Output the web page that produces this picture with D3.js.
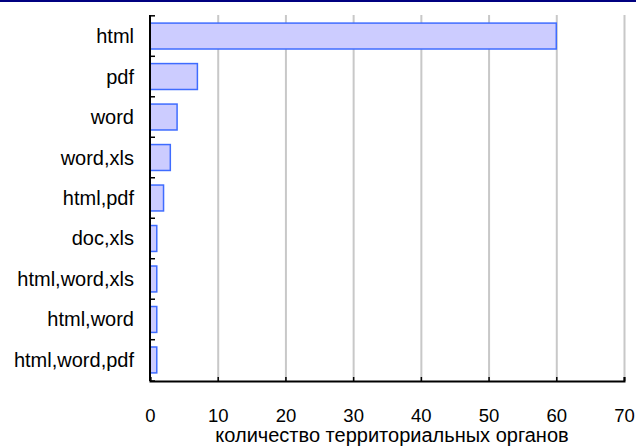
<!DOCTYPE html>
<html>
  <head>
    <meta charset="utf-8" />
    <style>
      body {
        margin: 0;
        background: #fff;
        font-family: "Liberation Sans", Arial, sans-serif;
      }
      svg {
        display: block;
      }
      .grid line {
        stroke: #c8c8c8;
        stroke-width: 2;
      }
      .grid .domain {
        display: none;
      }
      .x .tick text {
        font-size: 18.5px;
        fill: #000;
      }
      .axis-label {
        font-size: 20px;
      }
    </style>
  </head>
  <body>
    <svg width="636" height="446"></svg>
    <script src="https://d3js.org/d3.v7.min.js"></script>
    <script>
      let categories = [
        "html",
        "pdf",
        "word",
        "word,xls",
        "html,pdf",
        "doc,xls",
        "html,word,xls",
        "html,word",
        "html,word,pdf",
      ];
      let values = [60, 7, 4, 3, 2, 1, 1, 1, 1];
      let xTicks = [0, 10, 20, 30, 40, 50, 60, 70];
      let xTitle = "количество территориальных органов";

      let width = 636;
      let height = 446;
      let margin = { top: 15, right: 12, bottom: 65, left: 150 };

      let svg = d3.select("svg");

      // thin navy rule along the top
      svg
        .append("rect")
        .attr("x", 0)
        .attr("y", 0)
        .attr("width", width)
        .attr("height", 2)
        .attr("fill", "#000080");

      let x = d3
        .scaleLinear()
        .domain([0, 70])
        .range([margin.left, 624]);

      let y = d3
        .scaleBand()
        .domain(categories)
        .range([margin.top, 381])
        .paddingInner(0.36)
        .paddingOuter(0.2);

      // gridlines
      svg
        .append("g")
        .attr("class", "grid")
        .attr("transform", `translate(0, ${margin.top})`)
        .call(
          d3
            .axisBottom(x)
            .tickValues(xTicks.slice(1))
            .tickSize(381 - margin.top)
            .tickFormat("")
        );

      // bars
      svg
        .append("g")
        .selectAll("rect")
        .data(categories)
        .join("rect")
        .attr("x", x(0))
        .attr("y", (d) => y(d))
        .attr("width", (d, i) => x(values[i]) - x(0))
        .attr("height", y.bandwidth())
        .attr("fill", "#ccccff")
        .attr("stroke", "#3f6cff")
        .attr("stroke-width", 1.5);

      // x axis
      let xAxis = svg
        .append("g")
        .attr("class", "x axis")
        .attr("transform", `translate(0, 381)`)
        .call(d3.axisTop(x).tickValues(xTicks).tickSize(4).tickFormat(d3.format("d")));
      xAxis.select(".domain").attr("stroke", "#000").attr("stroke-width", 2);
      xAxis.selectAll(".tick line").attr("stroke", "#000").attr("stroke-width", 1.5);
      xAxis
        .selectAll(".tick text")
        .attr("y", 41)
        .attr("dy", 0);

      // y axis: ticks at category boundaries
      let step = y.step();
      let bounds = categories.map((c) => y(c) - (step - y.bandwidth()) / 2);
      bounds.push(381);
      let yAxis = svg.append("g").attr("class", "y axis");
      yAxis
        .append("line")
        .attr("x1", x(0))
        .attr("x2", x(0))
        .attr("y1", margin.top)
        .attr("y2", 381)
        .attr("stroke", "#000")
        .attr("stroke-width", 2);
      yAxis
        .selectAll(".btick")
        .data(bounds)
        .join("line")
        .attr("class", "btick")
        .attr("x1", x(0))
        .attr("x2", x(0) + 5)
        .attr("y1", (d) => d)
        .attr("y2", (d) => d)
        .attr("stroke", "#000")
        .attr("stroke-width", 1.5);
      yAxis
        .selectAll(".lbl")
        .data(categories)
        .join("text")
        .attr("class", "lbl")
        .attr("x", 134)
        .attr("y", (d) => y(d) + y.bandwidth() / 2)
        .attr("dy", "0.35em")
        .attr("text-anchor", "end")
        .attr("font-size", 20)
        .text((d) => d);

      svg
        .append("text")
        .attr("class", "axis-label")
        .attr("x", 392)
        .attr("y", 442)
        .attr("text-anchor", "middle")
        .text(xTitle);
    </script>
  </body>
</html>
